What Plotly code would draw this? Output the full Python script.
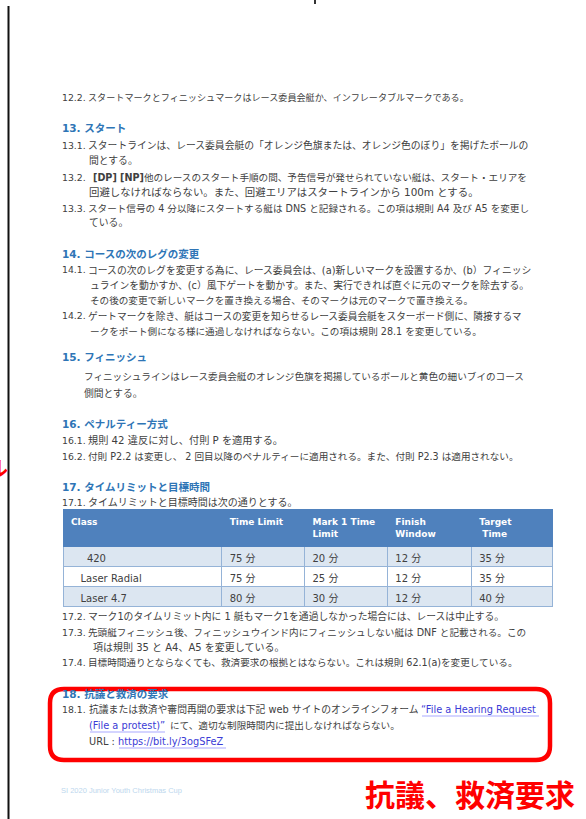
import plotly.graph_objects as go

W, H = 586, 819


def px(x):
    return x / W


def py(y):
    return 1 - y / H


# ---- table data ----
classes = ["420", "Laser Radial", "Laser 4.7"]
time_limit = [75, 75, 80]
mark1_limit = [20, 25, 30]
finish_window = [12, 12, 12]
target_time = [35, 35, 40]
header_labels = ["Class", "Time Limit", "Mark 1 Time<br>Limit", "Finish<br>Window", "Target<br>\u00a0Time"]
unit = "分"

# ---- style constants ----
BODY = "#404040"
HEAD = "#2E75B6"
LINK = "#3B3BD6"
JP = "DejaVu Sans, Noto Sans CJK JP"
JPB = "Noto Sans CJK JP"
FS = 9.8

fig = go.Figure()

class_indent = [5, 3, 3]
class_txt = ["\u00a0" * n + c for n, c in zip(class_indent, classes)]


def fmt(vals):
    return [f"{v} {unit}" for v in vals]


row_fills = ["#DCE6F1", "#FFFFFF", "#DCE6F1"]
fig.add_trace(go.Table(
    domain=dict(x=[px(63), px(554)], y=[py(608), py(509)]),
    columnwidth=[159, 83, 83, 84, 82],
    header=dict(
        values=[f"<b>{h}</b>" for h in header_labels],
        fill_color="#4F81BD", line_color="#4F81BD", align="left",
        font=dict(family="DejaVu Sans", size=9, color="white"), height=37),
    cells=dict(
        values=[class_txt, fmt(time_limit), fmt(mark1_limit), fmt(finish_window), fmt(target_time)],
        fill_color=[row_fills] * 5, line_color="#95B3D7", align="left",
        font=dict(family=JP, size=10, color=BODY), height=20),
))

annotations = []


def txt(x, y, s, color=BODY, size=FS, family=JP):
    annotations.append(dict(
        x=px(x), y=py(y), xref="paper", yref="paper", text=s, showarrow=False,
        xanchor="left", yanchor="middle", align="left",
        font=dict(family=family, size=size, color=color)))


def head(y, s):
    txt(60, y, f"<b>{s}</b>", color=HEAD, size=10.5)


def item(y, num, s, x=86, size=FS):
    txt(60, y, num, size=9.3)
    txt(x, y, s, size=size)


item(97, "12.2.", "スタートマークとフィニッシュマークはレース委員会艇か、インフレータブルマークである。", size=9.1)

head(128, "13. スタート")
item(145, "13.1.", "スタートラインは、レース委員会艇の「オレンジ色旗または、オレンジ色のぼり」を掲げたボールの")
txt(87, 161, "間とする。")
item(177, "13.2.", "<b>[DP] [NP]</b>他のレースのスタート手順の間、予告信号が発せられていない艇は、スタート・エリアを", x=91, size=9.6)
txt(87, 192, "回避しなければならない。また、回避エリアはスタートラインから 100m とする。", size=10.4)
item(208, "13.3.", "スタート信号の 4 分以降にスタートする艇は DNS と記録される。この項は規則 A4 及び A5 を変更し", size=9.6)
txt(87, 223, "ている。")

head(254, "14. コースの次のレグの変更")
item(270, "14.1.", "コースの次のレグを変更する為に、レース委員会は、(a)新しいマークを設置するか、(b）フィニッシ")
txt(88, 285, "ュラインを動かすか、(c）風下ゲートを動かす。また、実行できれば直ぐに元のマークを除去する。")
txt(88, 300, "その後の変更で新しいマークを置き換える場合、そのマークは元のマークで置き換える。", size=9.6)
item(316, "14.2.", "ゲートマークを除き、艇はコースの変更を知らせるレース委員会艇をスターボード側に、隣接するマ", size=9.7)
txt(88, 331, "ークをポート側になる様に通過しなければならない。この項は規則 28.1 を変更している。", size=9.6)

head(357, "15. フィニッシュ")
txt(82, 377, "フィニッシュラインはレース委員会艇のオレンジ色旗を掲揚しているボールと黄色の細いブイのコース", size=9.6)
txt(82, 393, "側間とする。")

head(424, "16. ペナルティー方式")
item(440, "16.1.", "規則 42 違反に対し、付則 P を適用する。", size=10.2)
item(456, "16.2.", "付則 P2.2 は変更し、 2 回目以降のペナルティーに適用される。また、付則 P2.3 は適用されない。", size=9.6)

head(487, "17. タイムリミットと目標時間")
item(502, "17.1.", "タイムリミットと目標時間は次の通りとする。", size=10)

item(616, "17.2.", "マーク1のタイムリミット内に 1 艇もマーク1を通過しなかった場合には、レースは中止する。")
item(632, "17.3.", "先頭艇フィニッシュ後、フィニッシュウインド内にフィニッシュしない艇は DNF と記載される。この", size=9.6)
txt(91, 647, "項は規則 35 と A4、A5 を変更している。", size=10)
item(662, "17.4.", "目標時間通りとならなくても、救済要求の根拠とはならない。これは規則 62.1(a)を変更している。", size=9.6)

head(694, "18. 抗議と救済の要求")
item(709, "18.1.", "抗議または救済や審問再開の要求は下記 web サイトのオンラインフォーム", x=87, size=9.8)
txt(419, 709, "“File a Hearing Request", color=LINK)
txt(87, 725, "(File a protest)”", color=LINK)
txt(168, 725, "にて、適切な制限時間内に提出しなければならない。", size=9.6)
txt(87, 741, "URL :")
txt(116, 741, "https://bit.ly/3ogSFeZ", color=LINK)

# footer and callout
txt(59, 790, "SI 2020 Junior Youth Christmas Cup", color="#BDD7EE", size=7.5, family="Liberation Sans")
txt(363, 793, "<b>抗議、救済要求</b>", color="#FF0000", size=30, family=JPB)

# clipped red glyph at the far left
annotations.append(dict(
    x=px(10), y=py(467), xref="paper", yref="paper", text="<b>ル</b>", showarrow=False,
    xanchor="right", yanchor="middle", font=dict(family=JPB, size=21, color="#FF0000")))

shapes = []

# link underlines
for x0, x1, y in [(422, 539, 716), (90, 165, 732), (119, 226, 748)]:
    shapes.append(dict(type="line", xref="paper", yref="paper",
                       x0=px(x0), x1=px(x1), y0=py(y), y1=py(y),
                       line=dict(color="#A9A9FF", width=1.2)))

# rounded red box
bx0, bx1, by0, by1, r = 50, 550, 689, 760, 14
path = (
    f"M {px(bx0 + r)},{py(by0)} L {px(bx1 - r)},{py(by0)} "
    f"Q {px(bx1)},{py(by0)} {px(bx1)},{py(by0 + r)} "
    f"L {px(bx1)},{py(by1 - r)} Q {px(bx1)},{py(by1)} {px(bx1 - r)},{py(by1)} "
    f"L {px(bx0 + r)},{py(by1)} Q {px(bx0)},{py(by1)} {px(bx0)},{py(by1 - r)} "
    f"L {px(bx0)},{py(by0 + r)} Q {px(bx0)},{py(by0)} {px(bx0 + r)},{py(by0)} Z"
)
shapes.append(dict(type="path", xref="paper", yref="paper", path=path,
                   line=dict(color="#FF0000", width=4.5), layer="above"))

# page edge line and small top mark
shapes.append(dict(type="line", xref="paper", yref="paper", x0=px(8.5), x1=px(8.5),
                   y0=py(6), y1=py(819), line=dict(color="#111111", width=2)))
shapes.append(dict(type="line", xref="paper", yref="paper", x0=px(315), x1=px(315),
                   y0=py(0), y1=py(4), line=dict(color="#333333", width=2)))

fig.update_layout(
    width=W, height=H, margin=dict(l=0, r=0, t=0, b=0),
    paper_bgcolor="white", plot_bgcolor="white",
    annotations=annotations, shapes=shapes, showlegend=False,
)

fig.write_html("out.html", config={"displayModeBar": False},
               post_script="document.body.style.margin='0px';")
